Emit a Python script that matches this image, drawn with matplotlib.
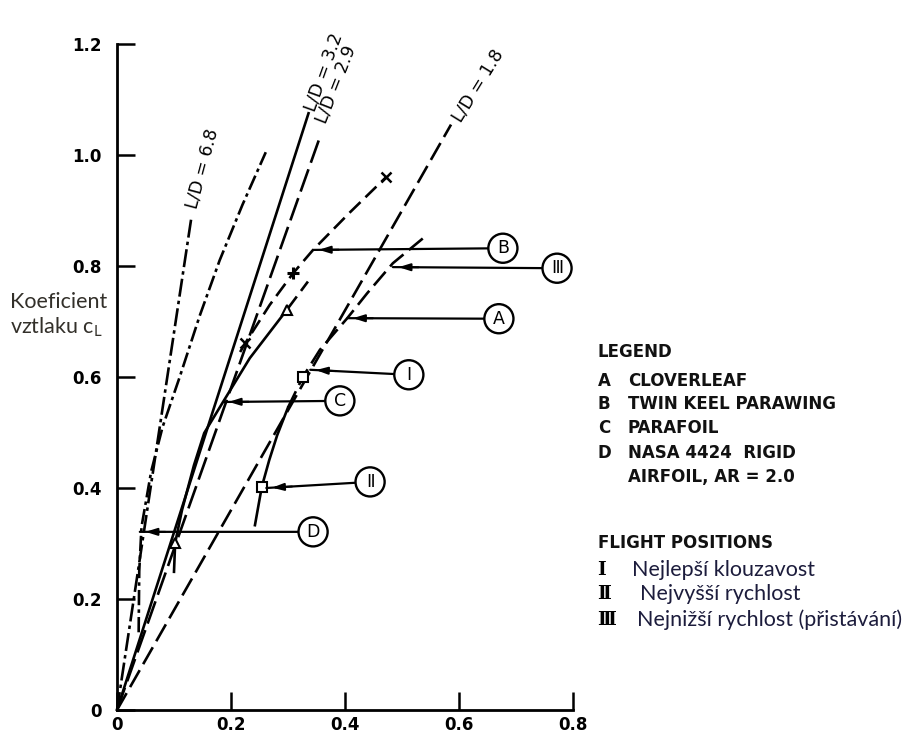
import matplotlib
matplotlib.use("Agg")
import matplotlib.pyplot as plt
import numpy as np

plt.rcParams['lines.scale_dashes'] = False

# ---------------- data ----------------
ld_values = [6.8, 3.2, 2.9, 1.8]
ld_cd_max = [0.130, 0.336, 0.357, 0.586]
ld_labels = ["L/D = 6.8", "L/D = 3.2", "L/D = 2.9", "L/D = 1.8"]
ld_label_pos = [(0.150, 0.975), (0.362, 1.150), (0.385, 1.128), (0.634, 1.125)]

# D  NASA 4424 rigid airfoil
d_cd = [0.038, 0.039, 0.043, 0.060, 0.080, 0.110, 0.145, 0.180, 0.220, 0.261]
d_cl = [0.140, 0.250, 0.330, 0.430, 0.510, 0.600, 0.710, 0.810, 0.910, 1.005]

# C  parafoil (solid measured part, dashed extension)
c_cd = [0.100, 0.102, 0.114, 0.135, 0.153, 0.186, 0.233, 0.298]
c_cl = [0.249, 0.301, 0.360, 0.441, 0.499, 0.555, 0.634, 0.721]
c_ext_cd = [0.298, 0.335]
c_ext_cl = [0.721, 0.772]
c_mark_cd = [0.102, 0.298]
c_mark_cl = [0.301, 0.721]

# B  twin keel parawing
b_cd = [0.216, 0.225, 0.268, 0.309, 0.344, 0.409, 0.472]
b_cl = [0.645, 0.661, 0.730, 0.787, 0.829, 0.897, 0.960]
b_x_cd = [0.225, 0.472]
b_x_cl = [0.661, 0.960]
b_plus_cd = [0.309]
b_plus_cl = [0.787]

# A  cloverleaf
a_cd = [0.242, 0.254, 0.267, 0.281, 0.300]
a_cl = [0.333, 0.402, 0.450, 0.495, 0.545]
a_up_cd = [0.300, 0.326, 0.356, 0.404, 0.439, 0.484, 0.544]
a_up_cl = [0.545, 0.600, 0.649, 0.706, 0.751, 0.805, 0.856]
a_sq_cd = [0.326, 0.254]
a_sq_cl = [0.600, 0.402]

# callouts: label, circle centre, target point
call_labels = ["B", "Ⅲ", "A", "Ⅰ", "C", "Ⅱ", "D"]
call_centre = [(0.677, 0.832), (0.772, 0.796), (0.670, 0.705), (0.512, 0.604),
               (0.391, 0.557), (0.444, 0.411), (0.344, 0.321)]
call_target = [(0.344, 0.829), (0.484, 0.798), (0.404, 0.706), (0.339, 0.613),
               (0.186, 0.555), (0.262, 0.400), (0.040, 0.321)]

x_ticks = [0, 0.2, 0.4, 0.6, 0.8]
x_ticklabels = ["0", "0.2", "0.4", "0.6", "0.8"]
y_ticks = [0, 0.2, 0.4, 0.6, 0.8, 1.0, 1.2]
y_ticklabels = ["0", "0.2", "0.4", "0.6", "0.8", "1.0", "1.2"]

legend_title = "LEGEND"
legend_keys = ["A", "B", "C", "D", ""]
legend_items = ["CLOVERLEAF", "TWIN KEEL PARAWING", "PARAFOIL",
                "NASA 4424  RIGID", "AIRFOIL, AR = 2.0"]
fp_title = "FLIGHT POSITIONS"
fp_keys = ["Ⅰ", "Ⅱ", "Ⅲ"]
fp_items = ["Nejlepší klouzavost", "Nejvyšší rychlost", "Nejnižší rychlost (přistávání)"]

# ---------------- figure ----------------
W, H = 903, 733
fig = plt.figure(figsize=(W / 100, H / 100), dpi=100)
ax = fig.add_axes([117 / W, 1 - 710 / H, 456 / W, 666 / H])
ax.set_xlim(0, 0.8)
ax.set_ylim(0, 1.2)
for s in ["top", "right"]:
    ax.spines[s].set_visible(False)
for s in ["left", "bottom"]:
    ax.spines[s].set_linewidth(2.0)
ax.tick_params(direction="in", length=13, width=1.8)
ax.tick_params(axis="y", pad=11)
ax.tick_params(axis="x", pad=4)
ax.set_xticks(x_ticks)
ax.set_xticklabels(x_ticklabels, fontsize=12, fontweight="bold", family="DejaVu Sans")
ax.set_yticks(y_ticks)
ax.set_yticklabels(y_ticklabels, fontsize=12, fontweight="bold", family="DejaVu Sans")

k = "black"
lw = 1.9
ld_styles = [(0, (13, 3, 2.5, 3)), "-", (0, (17, 5)), (0, (14, 5))]
for v, xm, st in zip(ld_values, ld_cd_max, ld_styles):
    xs = np.array([0.0, xm])
    ax.plot(xs, v * xs, color=k, lw=lw, linestyle=st, clip_on=False)

for lab, (lx, ly), v in zip(ld_labels, ld_label_pos, ld_values):
    ang = np.degrees(np.arctan(v * (666 / 1.2) / (456 / 0.8)))
    ax.text(lx, ly, lab, rotation=min(ang, 77) - 2, ha="center", va="center",
            fontsize=12.5, family="DejaVu Sans", clip_on=False,
            rotation_mode="anchor")

ax.plot(d_cd, d_cl, color=k, lw=lw, linestyle=(0, (11, 3, 2.5, 3)))
ax.plot(c_cd, c_cl, color=k, lw=lw)
ax.plot(c_ext_cd, c_ext_cl, color=k, lw=lw, linestyle=(0, (12, 5)))
ax.plot(c_mark_cd, c_mark_cl, linestyle="none", marker="^", ms=7, mfc="white",
        mec=k, mew=1.5)
ax.plot(b_cd, b_cl, color=k, lw=lw, linestyle=(0, (11, 5)))
ax.plot(b_x_cd, b_x_cl, linestyle="none", marker="x", ms=7, mec=k, mew=1.8)
ax.plot(b_plus_cd, b_plus_cl, linestyle="none", marker="+", ms=9, mec=k, mew=2.2)
ax.plot(a_cd, a_cl, color=k, lw=lw)
ax.plot(a_up_cd, a_up_cl, color=k, lw=lw, linestyle=(0, (13, 5)))
ax.plot(a_sq_cd, a_sq_cl, linestyle="none", marker="s", ms=6.5, mfc="white",
        mec=k, mew=1.5, zorder=5)

for lab, (cx, cy), (tx, ty) in zip(call_labels, call_centre, call_target):
    ax.annotate(lab, xy=(tx, ty), xytext=(cx, cy), ha="center", va="center",
                fontsize=12.5, family="DejaVu Sans",
                bbox=dict(boxstyle="circle,pad=0.32", fc="white", ec=k, lw=1.7),
                arrowprops=dict(arrowstyle="-", color=k, lw=1.6,
                                shrinkA=0, shrinkB=0), zorder=6)
    slope = (cy - ty) / (cx - tx)
    sx, sy = tx + 0.045, ty + 0.045 * slope
    ex, ey = tx + 0.010, ty + 0.010 * slope
    ax.annotate("", xy=(ex, ey), xytext=(sx, sy),
                arrowprops=dict(arrowstyle="-|>,head_length=0.7,head_width=0.22",
                                color=k, lw=1.4, shrinkA=0, shrinkB=0))

# ---------------- side texts ----------------
fig.text(10 / W, 1 - 302 / H, "Koeficient", fontsize=15.5, family="Lato",
         color="#33302a", va="center", ha="left")
fig.text(10 / W, 1 - 327 / H, "vztlaku c$_{\\mathregular{L}}$", fontsize=15.5,
         family="Lato", color="#33302a", va="center", ha="left")

cap_kw = dict(fontsize=12, family="DejaVu Sans", fontweight="bold",
              va="center", ha="left", color="#111111")
fig.text(598 / W, 1 - 352 / H, legend_title, **cap_kw)
leg_y = [381, 404, 428, 453, 477]
for key, item, py in zip(legend_keys, legend_items, leg_y):
    fig.text(598 / W, 1 - py / H, key, **cap_kw)
    fig.text(628 / W, 1 - py / H, item, **cap_kw)

fig.text(598 / W, 1 - 543 / H, fp_title, **cap_kw)
fp_y = [570, 594, 620]
fp_x = [632, 640, 637]
for key, item, py, px in zip(fp_keys, fp_items, fp_y, fp_x):
    fig.text(597 / W, 1 - py / H, key, fontsize=13.5, family="DejaVu Serif",
             fontweight="bold", va="center", ha="left")
    fig.text(px / W, 1 - py / H, item, fontsize=15.5, family="Lato",
             color="#1c1c3c", va="center", ha="left")

fig.savefig("out.png", dpi=100)
